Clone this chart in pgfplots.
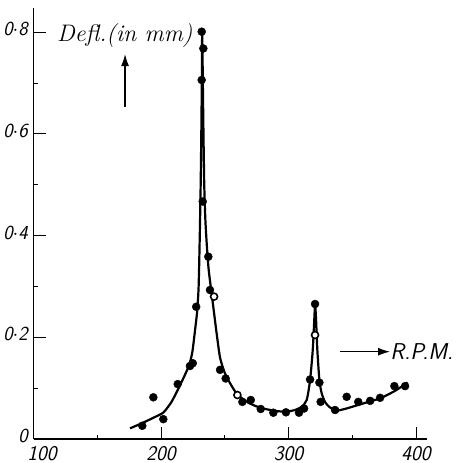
\documentclass[border=0pt]{standalone}
\usepackage{fontspec}
\usepackage{pgfplots}
\pgfplotsset{compat=1.18}
\usetikzlibrary{arrows.meta}
\begin{document}
\begin{tikzpicture}
\path[use as bounding box] (-33.5bp,-24bp) rectangle (426.5bp,439bp);
\begin{axis}[
  scale only axis, width=393.5bp, height=431bp,
  xmin=100, xmax=408.6, ymin=0, ymax=0.8476,
  axis lines*=left, axis line style={line width=1.1bp},
  clip=false,
  xtick={100,200,300,400},
  xticklabels={\makebox[0pt][c]{\hspace{17bp}100},200,300,400},
  ytick={0,0.2,0.4,0.6,0.8},
  yticklabels={0,0$\cdot$2,0$\cdot$4,0$\cdot$6,0$\cdot$8},
  minor xtick={150,250,350}, minor ytick={0.1,0.3,0.5,0.7},
  tick align=inside, major tick length=12bp, minor tick length=4bp,
  every tick/.style={black, line width=1bp},
  xticklabel style={font=\fontsize{21}{21}\selectfont\sffamily\itshape, inner sep=1bp, yshift=-6bp},
  yticklabel style={font=\fontsize{20}{20}\selectfont\sffamily\itshape, inner sep=1bp, xshift=-4.5bp, yshift=3bp},
]
\addplot[line width=2.2bp, line join=round, smooth, tension=0.4, no marks] coordinates {
(175.7,0.021) (185,0.031) (195,0.043) (201.8,0.052) (208,0.072) (213,0.096)
(218,0.122) (222,0.145) (224.5,0.170) (226.5,0.210) (228.3,0.250) (229.5,0.30)
(230.4,0.40) (231.1,0.50) (231.6,0.60) (232,0.70) (232.3,0.80)
(232.8,0.70) (233.3,0.60) (233.9,0.50) (234.8,0.43) (236.2,0.37) (237.5,0.33)
(239.5,0.29) (241.5,0.25) (243.5,0.21) (246.3,0.16) (250,0.13) (254.1,0.110)
(258,0.094) (262,0.083) (268,0.072) (275,0.064) (280.2,0.060) (290,0.055)
(298.6,0.054) (305,0.057) (310.4,0.0635) (314.3,0.077) (316.9,0.116) (319,0.175)
(320.3,0.24) (320.8,0.265) (321.5,0.24) (322.6,0.175) (324.2,0.116) (326,0.09)
(328.6,0.073) (332,0.063) (337.8,0.056) (344,0.059) (350.8,0.064) (360,0.071)
(371.8,0.080) (383,0.094) (393.5,0.111)
};
\addplot[only marks, mark=*, mark size=4bp, mark options={fill=black, draw=black}] coordinates {
(185.3,0.026) (194,0.082) (201.8,0.039) (213.1,0.108) (222.7,0.1435) (224.9,0.149)
(227.6,0.26)
(231.9,0.801) (233.2,0.768) (231.9,0.706) (232.7,0.467) (237.1,0.3585) (238.4,0.293)
(246.3,0.136) (250.7,0.119) (263.8,0.073) (270.4,0.0767) (278.2,0.059)
(288.1,0.0517) (298,0.0525) (308.2,0.0517) (312.2,0.060) (316.9,0.117) (320.8,0.2655)
(324.2,0.111) (325.2,0.073) (336.5,0.057) (345.6,0.083) (354.7,0.073) (364,0.075)
(371.8,0.081) (383,0.104) (391.4,0.104)
};
\addplot[only marks, mark=*, mark size=3.5bp, mark options={fill=white, draw=black, line width=1.6bp}] coordinates {
(320.8,0.2045) (241.6,0.28) (259.9,0.0865)
};
\node[anchor=base west, inner sep=0, font=\fontsize{24}{24}\selectfont\itshape] at (axis cs:118.4,0.781) {Defl.(in mm)};
\draw[line width=1.3bp, -{Latex[length=12bp,width=8bp]}] (axis cs:171.8,0.653) -- (axis cs:171.8,0.757);
\draw[line width=1.3bp, -{Latex[length=12bp,width=8bp]}] (axis cs:340.4,0.1717) -- (axis cs:379.6,0.1717);
\node[anchor=west, inner sep=0, font=\fontsize{23}{23}\selectfont\sffamily\itshape] at (axis cs:379.8,0.1717) {R.P.M.};
\end{axis}
\end{tikzpicture}
\end{document}
